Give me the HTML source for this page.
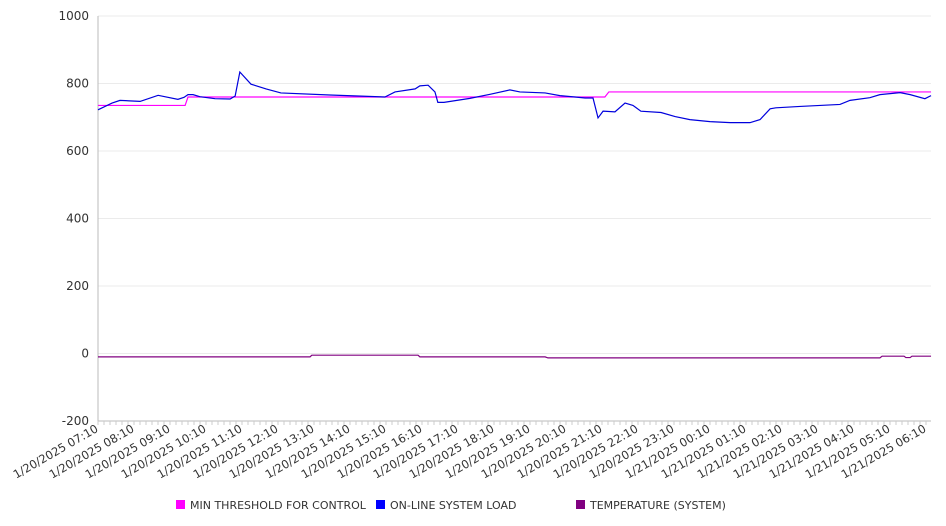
<!DOCTYPE html>
<html><head><meta charset="utf-8"><style>
body{margin:0;background:#fff;}
svg{display:block;font-family:"DejaVu Sans","Liberation Sans",sans-serif;}
</style></head><body>
<svg id="chart" width="946" height="526"></svg>
<script>
const hourLabels=["1/20/2025 07:10","1/20/2025 08:10","1/20/2025 09:10","1/20/2025 10:10","1/20/2025 11:10","1/20/2025 12:10","1/20/2025 13:10","1/20/2025 14:10","1/20/2025 15:10","1/20/2025 16:10","1/20/2025 17:10","1/20/2025 18:10","1/20/2025 19:10","1/20/2025 20:10","1/20/2025 21:10","1/20/2025 22:10","1/20/2025 23:10","1/21/2025 00:10","1/21/2025 01:10","1/21/2025 02:10","1/21/2025 03:10","1/21/2025 04:10","1/21/2025 05:10","1/21/2025 06:10"];
const yTicks=[-200,0,200,400,600,800,1000];
// hours since 07:10
const loadHours=[0,0.39,0.61,1.17,1.67,2.22,2.39,2.5,2.64,2.83,3.25,3.67,3.81,3.94,4.25,4.67,5.08,6.44,7.97,8.25,8.81,8.94,9.17,9.36,9.44,9.61,10.33,10.89,11.44,11.72,12.42,12.83,13.25,13.53,13.75,13.89,14.03,14.36,14.64,14.86,15.08,15.64,16.03,16.44,17.0,17.56,18.11,18.39,18.67,18.83,19.5,20.61,20.89,21.44,21.72,22.28,22.56,22.97,23.14];
const loadValues=[722,742,750,747,765,753,759,767,767,761,755,754,763,834,798,784,772,766,760,775,784,793,795,775,744,744,756,768,781,775,772,764,760,757,757,698,718,716,742,735,718,714,702,693,687,684,684,693,725,728,732,738,750,758,767,773,767,755,764];
const threshHours=[0,2.42,2.5,14.08,14.19,23.14];
const threshValues=[735,735,760,760,775,775];
const tempHours=[0,5.89,5.94,8.89,8.94,12.42,12.5,21.72,21.78,22.39,22.44,22.56,22.61,23.14];
const tempValues=[-10,-10,-5,-5,-10,-10,-13,-13,-8,-8,-12,-12,-8,-8];
const NS="http://www.w3.org/2000/svg";
const svg=document.getElementById('chart');
const X0=98,X1=931,HMAX=23.14,PX_H=36;
const xs=h=>X0+h*PX_H;
const ys=v=>353.5-v*0.3375;
function mk(t,a,p){const e=document.createElementNS(NS,t);for(const k in a)e.setAttribute(k,a[k]);(p||svg).appendChild(e);return e;}
yTicks.forEach(v=>{
  const g=mk('line',{x1:X0,x2:X1,y1:ys(v),y2:ys(v),stroke:'#ebebeb'});
  
  
  const t=mk('text',{x:89,y:ys(v)+4,'text-anchor':'end','font-size':12,fill:'#333'});
  t.textContent=v;
  
  
});
const ax=mk('line',{x1:X0,x2:X0,y1:16,y2:421,stroke:'#bbb'});


const bx=mk('line',{x1:X0,x2:X1,y1:421,y2:421,stroke:'#bbb'});


for(let m=0;m<=HMAX*6;m++){
  const x=xs(m/6);
  const tk=mk('line',{x1:x,x2:x,y1:421,y2:425,stroke:'#ccc'});
  
  
}
hourLabels.forEach((l,i)=>{
  const x=xs(i)+1,y=431;
  const t=mk('text',{x:x,y:y,'text-anchor':'end','font-size':11.5,fill:'#333',transform:`rotate(-30 ${x} ${y})`});
  t.textContent=l;
  
  
});
function series(hs,vs,color,name){
  const p=mk('polyline',{points:hs.map((h,i)=>xs(h)+','+ys(vs[i])).join(' '),fill:'none',stroke:color,'stroke-width':1.2});
  
  
}
series(tempHours,tempValues,'#800080','temperature-line');
series(threshHours,threshValues,'#ff00ff','min-threshold-line');
series(loadHours,loadValues,'#0000dd','online-load-line');
[['#ff00ff','MIN THRESHOLD FOR CONTROL',176],['#0000ff','ON-LINE SYSTEM LOAD',376],['#800080','TEMPERATURE (SYSTEM)',576]].forEach(([c,l,x])=>{
  const g=mk('g',{});
  
  
  mk('rect',{x:x,y:500,width:9,height:9,fill:c},g);
  const t=mk('text',{x:x+14,y:509,'font-size':11,fill:'#333'},g);
  t.textContent=l;
});
</script>
</body></html>
